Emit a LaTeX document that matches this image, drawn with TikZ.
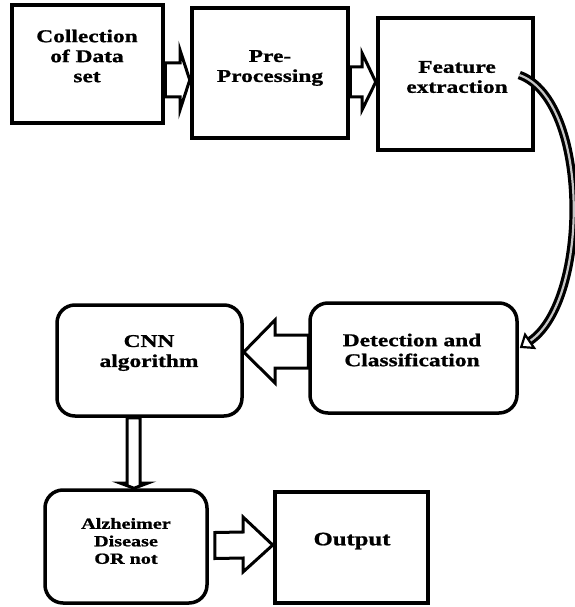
\documentclass[tikz,border=0pt]{standalone}
\usepackage{fontspec}
\setmainfont[FakeStretch=1.3, BoldFeatures={FakeBold=1}]{Liberation Serif}
\usetikzlibrary{arrows.meta,calc}

\tikzset{
  sqbox/.style={draw, line width=4.5pt, rectangle, inner sep=0pt},
  rndbox/.style={draw, line width=3.5pt, rectangle, rounded corners=18pt, inner sep=0pt},
  txt/.style={align=center, inner sep=0pt, font=\fontsize{18}{20}\selectfont\bfseries},
  blockarrow/.style={draw, fill=white, line width=3pt, line join=miter},
}

\begin{document}
\begin{tikzpicture}[x=1pt, y=-1pt]
	\useasboundingbox (0,0) rectangle (574,607);

	% boxes
	\node[sqbox, minimum width=151, minimum height=118] (coll) at (87.5,64) {};
	\node[sqbox, minimum width=156, minimum height=130] (pre) at (270,73) {};
	\node[sqbox, minimum width=155, minimum height=132] (feat) at (455.5,84) {};
	\node[rndbox, minimum width=207, minimum height=110] (det) at (413.5,358) {};
	\node[rndbox, minimum width=185, minimum height=111] (cnn) at (149.5,360.5) {};
	\node[rndbox, minimum width=162, minimum height=113] (alz) at (126,546.5) {};
	\node[sqbox, minimum width=153, minimum height=111] (out) at (351.5,547.5) {};

	% texts
	\node[txt] (colltxt) at (87,56) {Collection\\of Data\\set};
	\node[txt] (pretxt) at (270,68) {Pre-\\Processing};
	\node[txt] (feattxt) at (457,77) {Feature\\extraction};
	\node[txt] (dettxt) at (412,350) {Detection and\\Classification};
	\node[txt] (cnntxt) at (149,353) {CNN\\algorithm};
	\node[txt, font=\fontsize{15.5}{17.5}\selectfont\bfseries] (alztxt) at (126,541) {Alzheimer\\Disease\\OR not};
	\node[txt, font=\fontsize{19}{21}\selectfont\bfseries] (outtxt) at (352,541) {Output};

	% block arrows
	\draw[blockarrow] (coll.east |- 0,63) -- (180,63) -- (180,50) -- (pre.west |- 0,80)
		-- (180,110) -- (180,97) -- (coll.east |- 0,97) -- cycle;
	\draw[blockarrow] (pre.east |- 0,67) -- (362,67) -- (362,53) -- (feat.west |- 0,82)
		-- (362,110) -- (362,97) -- (pre.east |- 0,97) -- cycle;
	\draw[blockarrow] (det.west |- 0,335) -- (275,335) -- (275,320) -- (cnn.east |- 0,352)
		-- (275,383) -- (275,368) -- (det.west |- 0,368) -- cycle;
	\draw[blockarrow] (cnn.south -| 127,0) -- (127,483) -- (120,483) -- (alz.north -| 134,0)
		-- (148,483) -- (140,483) -- (cnn.south -| 140,0) -- cycle;
	\draw[blockarrow] ($(alz.east)+(6,-14)$) -- (243,532) -- (243,517) -- (out.west |- 0,545)
		-- (243,572) -- (243,558) -- ($(alz.east)+(6,12)$) -- cycle;

	% curved arrow
	\draw[line width=3.2pt, double=gray!45, double distance=2.2pt,
		-{Triangle[open, length=13pt, width=20pt, line width=2.2pt]}]
		($(feat.east)+(-16,-9)$) .. controls (590,100) and (590,300) .. ($(det.east)+(1,-10)$);

\end{tikzpicture}
\end{document}
